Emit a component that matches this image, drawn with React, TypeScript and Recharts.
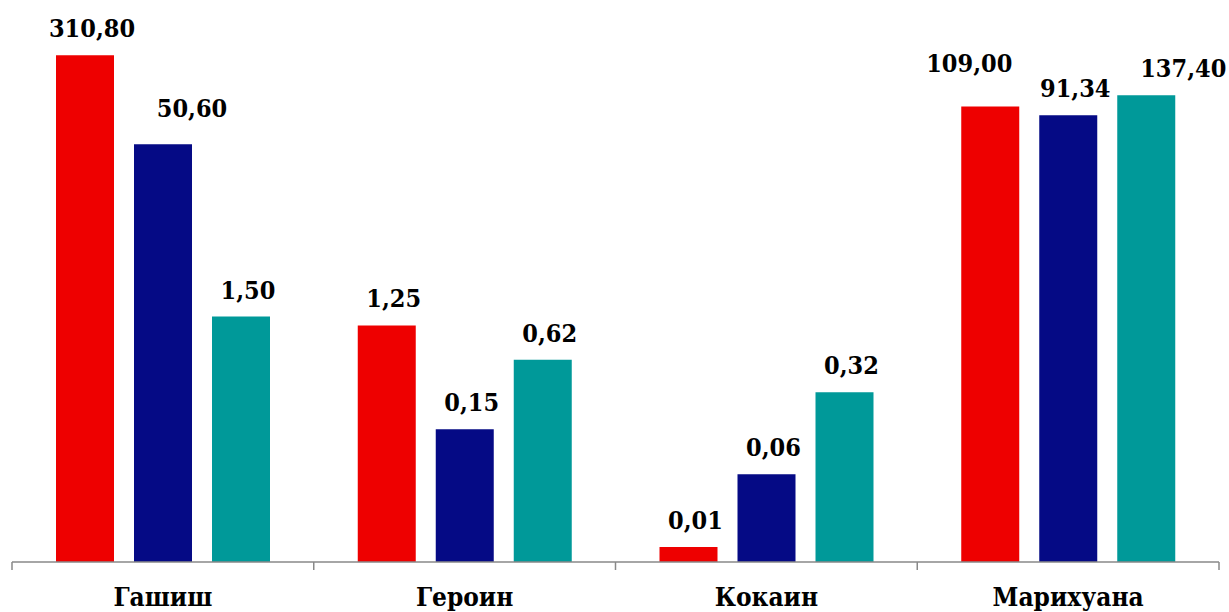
import { BarChart, Bar, XAxis, YAxis, LabelList } from 'recharts';

const CATEGORIES = ['Гашиш', 'Героин', 'Кокаин', 'Марихуана'];
const SERIES_RED = [310.8, 1.25, 0.0136, 109.0];
const SERIES_BLUE = [50.6, 0.15, 0.06, 91.34];
const SERIES_TEAL = [1.5, 0.62, 0.32, 137.4];

const W = 1229;
const H = 612;
const M = { top: -2, right: 10, bottom: 0, left: 12 };
const BAND = (W - M.left - M.right) / CATEGORIES.length;
const FONT = {
  fontFamily: "'DejaVu Serif Condensed', 'DejaVu Serif', serif",
  fontStretch: 'condensed',
  fontWeight: 700,
};

// hand-placed labels in the original: [dx, gap above bar]
const LABEL_NUDGE: Record<string, [number, number]> = {
  'blue-0': [29, 27],
  'red-3': [-21, 35],
  'teal-3': [37, 18],
};

const data = CATEGORIES.map((name, i) => ({
  name,
  red: SERIES_RED[i],
  blue: SERIES_BLUE[i],
  teal: SERIES_TEAL[i],
}));

const fmt = (v: number) => v.toFixed(2).replace('.', ',');

function makeLabel(key: string) {
  return (props: any) => {
    const { x, y, width, value, index } = props;
    const [dx, gap] = LABEL_NUDGE[`${key}-${index}`] ?? [7, 18];
    return (
      <text
        x={x + width / 2 + dx}
        y={y - gap}
        textAnchor="middle"
        fill="#000"
        style={{ ...FONT, fontSize: 25 }}
      >
        {fmt(Number(value))}
      </text>
    );
  };
}

function CategoryTick(props: any) {
  const { x, y, payload, index } = props;
  const left = x - BAND / 2;
  const right = x + BAND / 2;
  return (
    <g>
      <line x1={left} y1={y} x2={left} y2={y + 8} stroke="#898989" strokeWidth={1.5} />
      {index === CATEGORIES.length - 1 && (
        <line x1={right} y1={y} x2={right} y2={y + 8} stroke="#898989" strokeWidth={1.5} />
      )}
      <text x={x} y={y + 44} textAnchor="middle" fill="#000" style={{ ...FONT, fontSize: 26 }}>
        {payload.value}
      </text>
    </g>
  );
}

export default function App() {
  return (
    <div style={{ position: 'absolute', left: 0, top: 0, background: '#fff' }}>
      <BarChart width={W} height={H} data={data} margin={M} barSize={58} barGap={20}>
        <XAxis
          dataKey="name"
          height={50}
          tickSize={0}
          tickMargin={0}
          tickLine={false}
          axisLine={{ stroke: '#898989', strokeWidth: 1.5 }}
          tick={<CategoryTick />}
          interval={0}
        />
        <YAxis hide scale="log" domain={[0.01, 1000]} allowDataOverflow type="number" />
        <Bar dataKey="red" fill="#ee0000" isAnimationActive={false}>
          <LabelList dataKey="red" content={makeLabel('red')} />
        </Bar>
        <Bar dataKey="blue" fill="#050a85" isAnimationActive={false}>
          <LabelList dataKey="blue" content={makeLabel('blue')} />
        </Bar>
        <Bar dataKey="teal" fill="#009999" isAnimationActive={false}>
          <LabelList dataKey="teal" content={makeLabel('teal')} />
        </Bar>
      </BarChart>
    </div>
  );
}
